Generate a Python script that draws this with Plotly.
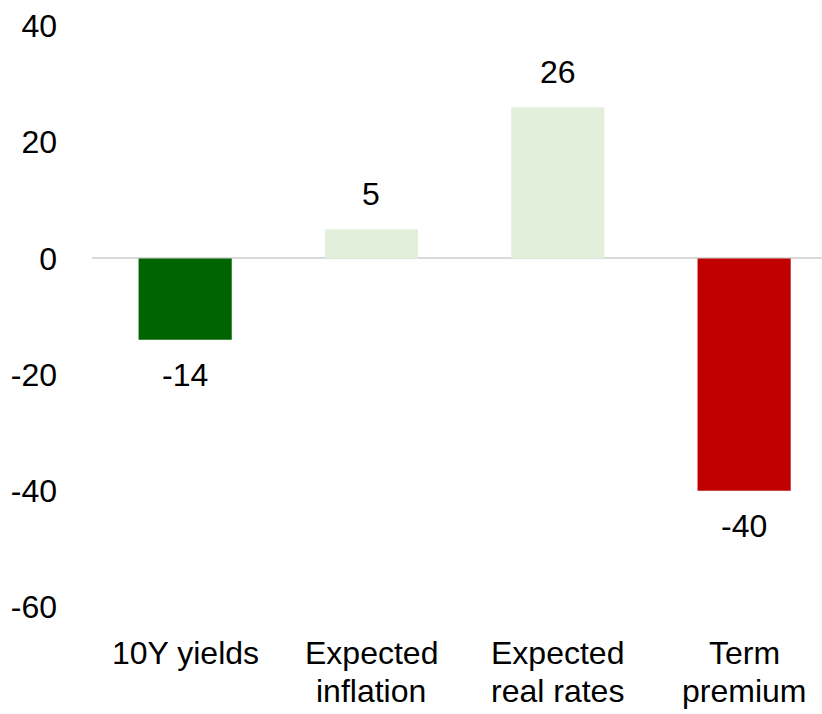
import plotly.graph_objects as go

# Decomposition of the move in 10Y yields (bp)
categories = ["10Y yields", "Expected<br>inflation", "Expected<br>real rates", "Term<br>premium"]
values = [-14, 5, 26, -40]
bar_colors = ["#006400", "#E2EFDA", "#E2EFDA", "#C00000"]
y_ticks = [-60, -40, -20, 0, 20, 40]

FONT = "Liberation Sans, Arial, sans-serif"
FS = 32

x_pos = list(range(len(categories)))

fig = go.Figure(
    go.Bar(
        x=x_pos,
        y=values,
        width=0.5,
        marker=dict(color=bar_colors, line=dict(width=0)),
        hoverinfo="skip",
    )
)

annotations = []
# value labels just beyond the end of each bar
for x, v in zip(x_pos, values):
    annotations.append(
        dict(
            x=x, y=v, xref="x", yref="y",
            text=str(v), showarrow=False,
            yanchor="middle", yshift=35 if v >= 0 else -35,
            font=dict(family=FONT, size=FS, color="#000000"),
        )
    )

# category labels, one annotation per line for tighter line spacing
LINE_GAP = 38
for x, cat in zip(x_pos, categories):
    for i, line in enumerate(cat.split("<br>")):
        annotations.append(
            dict(
                x=x, y=0, xref="x", yref="paper",
                text=line, showarrow=False,
                yanchor="middle", yshift=-46 - i * LINE_GAP,
                font=dict(family=FONT, size=FS, color="#000000"),
            )
        )

fig.update_layout(
    width=822,
    height=714,
    margin=dict(l=92, r=0, t=25.5, b=107.25),
    paper_bgcolor="#FFFFFF",
    plot_bgcolor="#FFFFFF",
    showlegend=False,
    annotations=annotations,
    font=dict(family=FONT, size=FS, color="#000000"),
    xaxis=dict(
        range=[-0.5, 3.418],
        showticklabels=False,
        showgrid=False,
        zeroline=False,
        showline=False,
        ticks="",
        fixedrange=True,
    ),
    yaxis=dict(
        range=[-60, 40],
        tickvals=y_ticks,
        ticktext=[str(t) for t in y_ticks],
        showgrid=False,
        zeroline=True,
        zerolinecolor="#D9D9D9",
        zerolinewidth=2,
        showline=False,
        ticks="",
        ticklabelstandoff=34,
        tickfont=dict(family=FONT, size=FS, color="#000000"),
        fixedrange=True,
    ),
)

fig.write_html("out.html")
